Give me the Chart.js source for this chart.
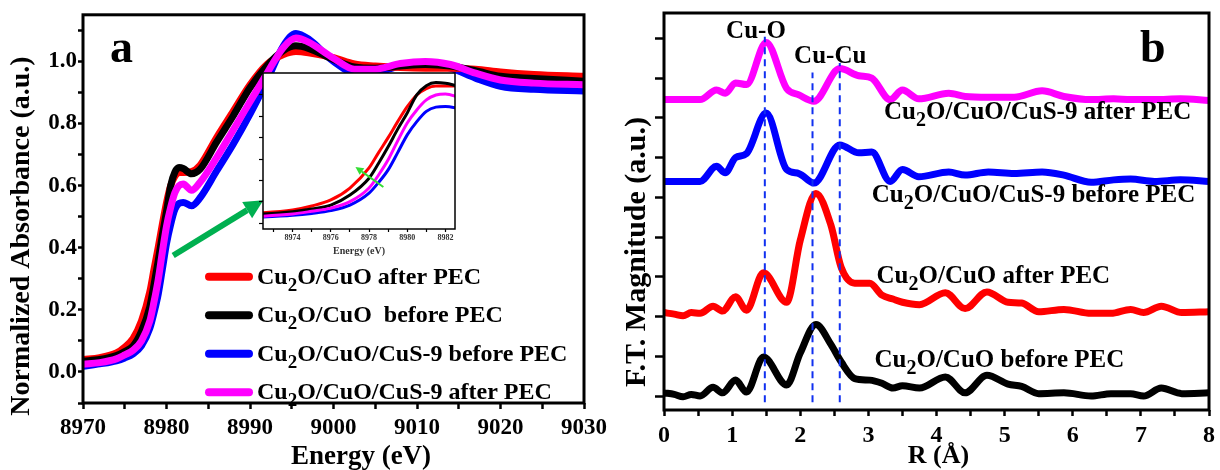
<!DOCTYPE html>
<html>
<head>
<meta charset="utf-8">
<script src="https://cdn.jsdelivr.net/npm/chart.js@4.4.1/dist/chart.umd.min.js"></script>
<style>
  body { margin: 0; background: #fff; }
  #wrap { position: relative; width: 1220px; height: 470px; }
  #wrap canvas { position: absolute; }
</style>
</head>
<body>
<div id="wrap">
  <canvas id="xanes" width="620" height="470" style="left:0;top:0"></canvas>
  <canvas id="inset" width="230" height="200" style="left:240px;top:60px"></canvas>
  <canvas id="ftChart" width="620" height="470" style="left:600px;top:0"></canvas>
</div>
<script>
// ---- panel a: Cu K-edge XANES ----
const energy = [8970, 8972, 8974, 8975, 8976, 8977, 8978, 8978.5, 8979, 8979.5, 8980, 8980.5, 8981, 8981.5, 8982,
  8983, 8984, 8986, 8988, 8990, 8992, 8994, 8995.5, 8997, 9000, 9002.5, 9005, 9008, 9011, 9014, 9017, 9020, 9024, 9030];
const xanesCuOAfter = [0.040, 0.046, 0.061, 0.080, 0.108, 0.164, 0.258, 0.330, 0.400, 0.475, 0.545, 0.600, 0.630, 0.642, 0.642,
  0.645, 0.665, 0.755, 0.840, 0.925, 0.990, 1.022, 1.032, 1.028, 1.012, 0.992, 0.985, 0.980, 0.978, 0.978, 0.975, 0.966, 0.958, 0.952];
const xanesCuOBefore = [0.035, 0.040, 0.053, 0.066, 0.084, 0.131, 0.210, 0.280, 0.357, 0.440, 0.516, 0.600, 0.643, 0.658, 0.655,
  0.638, 0.652, 0.740, 0.825, 0.915, 0.985, 1.035, 1.050, 1.042, 1.006, 0.982, 0.978, 0.985, 0.990, 0.985, 0.970, 0.952, 0.945, 0.936];
const xanesCuSBefore = [0.018, 0.026, 0.036, 0.045, 0.058, 0.084, 0.140, 0.190, 0.249, 0.330, 0.413, 0.475, 0.523, 0.543, 0.546,
  0.535, 0.560, 0.647, 0.734, 0.830, 0.936, 1.050, 1.090, 1.072, 1.000, 0.965, 0.965, 0.985, 0.990, 0.978, 0.946, 0.920, 0.910, 0.905];
const xanesCuSAfter = [0.025, 0.030, 0.042, 0.055, 0.070, 0.100, 0.164, 0.225, 0.296, 0.385, 0.469, 0.530, 0.577, 0.600, 0.605,
  0.585, 0.610, 0.690, 0.780, 0.870, 0.960, 1.045, 1.075, 1.062, 1.010, 0.975, 0.975, 0.993, 1.000, 0.990, 0.962, 0.940, 0.930, 0.925];

// ---- panel b: Fourier transformed EXAFS (stacked) ----
const rCuO = [0, 0.15, 0.28, 0.4, 0.53, 0.72, 0.86, 1.05, 1.21, 1.46, 1.8, 2.0, 2.23, 2.45, 2.6, 2.8, 3.02, 3.2, 3.36, 3.5,
  3.75, 4.13, 4.42, 4.74, 5.05, 5.25, 5.5, 5.87, 6.27, 6.56, 6.85, 7.04, 7.3, 7.6, 8.0];
const ftCuOBefore = [0.04, 0.02, -0.01, 0.02, 0.0, 0.11, 0.04, 0.2, 0.05, 0.49, 0.14, 0.54, 0.9, 0.65, 0.43, 0.22, 0.2, 0.16, 0.1, 0.13,
  0.1, 0.24, 0.04, 0.26, 0.15, 0.12, 0.03, 0.04, 0.0, 0.03, 0.03, 0.0, 0.1, 0.03, 0.04];
const ftCuOAfter = [1.05, 1.03, 1.01, 1.05, 1.04, 1.13, 1.07, 1.25, 1.08, 1.55, 1.18, 1.96, 2.55, 2.15, 1.62, 1.42, 1.42, 1.27, 1.22, 1.18,
  1.15, 1.3, 1.1, 1.31, 1.18, 1.17, 1.06, 1.09, 1.04, 1.04, 1.09, 1.05, 1.13, 1.05, 1.06];
const rCuS = [0, 0.28, 0.53, 0.77, 0.9, 1.05, 1.21, 1.5, 1.8, 1.98, 2.2, 2.58, 2.86, 3.05, 3.32, 3.5, 3.74, 4.18, 4.42, 4.76,
  5.14, 5.55, 5.87, 6.27, 6.6, 6.85, 7.2, 7.58, 8.0];
const ftCuSBefore = [2.7, 2.7, 2.7, 2.89, 2.81, 3.0, 3.05, 3.56, 2.85, 2.8, 2.68, 3.16, 3.06, 3.07, 2.7, 2.85, 2.76, 2.82, 2.78, 2.82,
  2.8, 2.82, 2.78, 2.69, 2.72, 2.73, 2.7, 2.72, 2.7];
const ftCuSAfter = [3.73, 3.73, 3.73, 3.85, 3.81, 3.94, 3.92, 4.45, 3.87, 3.79, 3.71, 4.12, 4.03, 4.0, 3.73, 3.85, 3.74, 3.81, 3.77, 3.76,
  3.76, 3.84, 3.77, 3.73, 3.74, 3.73, 3.73, 3.74, 3.72];

// shell positions marked with dashed lines and the height each line reaches
const shellR = [1.48, 2.18, 2.58];
const shellTop = [4.52, 4.07, 4.19];

const serif = "'Liberation Serif', 'Times New Roman', serif";
const RED = '#ff0000', BLACK = '#000000', BLUE = '#0000ff', MAGENTA = '#ff00ff';

const pts = (xs, ys) => xs.map((x, i) => ({ x: x, y: ys[i] }));
const font = (size) => ({ family: serif, weight: 'bold', size: size });

// "Cu" + subscript 2 + rest of the sample name
function drawCu2O(ctx, x, y, rest, size) {
  ctx.textAlign = 'left';
  ctx.textBaseline = 'alphabetic';
  ctx.fillStyle = '#000';
  ctx.font = `bold ${size}px ${serif}`;
  ctx.fillText('Cu', x, y);
  x += ctx.measureText('Cu').width;
  ctx.font = `bold ${Math.round(size * 0.8)}px ${serif}`;
  ctx.fillText('2', x, y + size * 0.28);
  x += ctx.measureText('2').width;
  ctx.font = `bold ${size}px ${serif}`;
  ctx.fillText(rest, x, y);
}

function arrow(ctx, x1, y1, x2, y2, w, head, color) {
  const a = Math.atan2(y2 - y1, x2 - x1);
  const bx = x2 - head * Math.cos(a), by = y2 - head * Math.sin(a);
  ctx.strokeStyle = color;
  ctx.fillStyle = color;
  ctx.lineWidth = w;
  ctx.beginPath();
  ctx.moveTo(x1, y1);
  ctx.lineTo(bx, by);
  ctx.stroke();
  ctx.beginPath();
  ctx.moveTo(x2, y2);
  ctx.lineTo(bx + head * 0.5 * Math.sin(a), by - head * 0.5 * Math.cos(a));
  ctx.lineTo(bx - head * 0.5 * Math.sin(a), by + head * 0.5 * Math.cos(a));
  ctx.closePath();
  ctx.fill();
}

function rotatedTitle(ctx, text, x, y, size) {
  ctx.save();
  ctx.translate(x, y);
  ctx.rotate(-Math.PI / 2);
  ctx.font = `bold ${size}px ${serif}`;
  ctx.fillStyle = '#000';
  ctx.textAlign = 'center';
  ctx.textBaseline = 'middle';
  ctx.fillText(text, 0, 0);
  ctx.restore();
}

// box around the plot area (plus white fill for the inset)
const framePlugin = {
  id: 'frame',
  beforeDatasetsDraw(chart, args, opts) {
    if (!opts.fill) return;
    const { left, top, right, bottom } = chart.chartArea;
    chart.ctx.save();
    chart.ctx.fillStyle = '#fff';
    chart.ctx.fillRect(left, top, right - left, bottom - top);
    chart.ctx.restore();
  },
  afterDatasetsDraw(chart, args, opts) {
    const { left, top, right, bottom } = chart.chartArea;
    const ctx = chart.ctx;
    ctx.save();
    ctx.lineWidth = opts.width || 3;
    ctx.strokeStyle = '#000';
    ctx.strokeRect(left, top, right - left, bottom - top);
    ctx.restore();
  }
};

function axisX(min, max, step, labelEvery, size, tick, pad, height) {
  return {
    type: 'linear', min: min, max: max,
    afterFit: (s) => { s.height = height; },
    border: { display: false },
    grid: { drawOnChartArea: false, drawTicks: true, tickLength: tick, tickWidth: size < 12 ? 1.2 : 2.5, tickColor: '#000' },
    ticks: {
      stepSize: step, autoSkip: false, maxRotation: 0, includeBounds: false, padding: pad,
      color: size < 12 ? '#333' : '#000', font: font(size),
      callback: (v) => (Math.abs(v / labelEvery - Math.round(v / labelEvery)) < 1e-6 ? String(Math.round(v)) : '')
    }
  };
}

const lineStyle = (color, width, order) => ({
  borderColor: color, backgroundColor: color, borderWidth: width, pointRadius: 0,
  cubicInterpolationMode: 'monotone', fill: false, order: order
});

function xanesSets(width, clip) {
  return [
    Object.assign({ label: 'Cu2O/CuO/CuS-9 before PEC', data: pts(energy, xanesCuSBefore), clip: clip }, lineStyle(BLUE, width, 3)),
    Object.assign({ label: 'Cu2O/CuO after PEC', data: pts(energy, xanesCuOAfter), clip: clip }, lineStyle(RED, width, 2)),
    Object.assign({ label: 'Cu2O/CuO before PEC', data: pts(energy, xanesCuOBefore), clip: clip }, lineStyle(BLACK, width, 1)),
    Object.assign({ label: 'Cu2O/CuO/CuS-9 after PEC', data: pts(energy, xanesCuSAfter), clip: clip }, lineStyle(MAGENTA, width, 0))
  ];
}

const legendItems = [
  { color: RED, rest: 'O/CuO after PEC' },
  { color: BLACK, rest: 'O/CuO  before PEC' },
  { color: BLUE, rest: 'O/CuO/CuS-9 before PEC' },
  { color: MAGENTA, rest: 'O/CuO/CuS-9 after PEC' }
];

const xanesDecor = {
  id: 'xanesDecor',
  afterDraw(chart) {
    const ctx = chart.ctx, xs = chart.scales.x, ys = chart.scales.y;
    const area = chart.chartArea;
    ctx.save();
    ctx.fillStyle = '#000';
    ctx.font = `bold 46px ${serif}`;
    ctx.textAlign = 'left';
    ctx.textBaseline = 'alphabetic';
    ctx.fillText('a', area.left + 27, area.top + 47);

    // arrow pointing at the magnified edge
    arrow(ctx, xs.getPixelForValue(8980.8), ys.getPixelForValue(0.375),
      xs.getPixelForValue(8991.6), ys.getPixelForValue(0.553), 6, 19, '#00b050');

    // legend
    legendItems.forEach((item, i) => {
      const y = area.top + 262 + i * 38.5;
      ctx.strokeStyle = item.color;
      ctx.lineWidth = 8;
      ctx.lineCap = 'round';
      ctx.beginPath();
      ctx.moveTo(area.left + 126, y);
      ctx.lineTo(area.left + 166, y);
      ctx.stroke();
      drawCu2O(ctx, area.left + 174, y + 7, item.rest, 24);
    });

    rotatedTitle(ctx, 'Normalized Absorbance (a.u.)', 22, 236, 28);
    ctx.font = `bold 27px ${serif}`;
    ctx.textAlign = 'center';
    ctx.textBaseline = 'middle';
    ctx.fillText('Energy (eV)', 361, 457);
    ctx.restore();
  }
};

new Chart(document.getElementById('xanes'), {
  type: 'line',
  data: { datasets: xanesSets(7, 0) },
  options: {
    responsive: false,
    animation: false,
    layout: { padding: { top: 13, right: 36, left: 0, bottom: 0 } },
    plugins: { legend: { display: false }, tooltip: { enabled: false }, frame: { width: 3 } },
    scales: {
      x: axisX(8970, 9030, 5, 10, 23, 6, 5, 67),
      y: {
        min: -0.1, max: 1.15,
        afterFit: (s) => { s.width = 83; },
        border: { display: false },
        grid: { drawOnChartArea: false, tickLength: 5, tickWidth: 2.5, tickColor: '#000' },
        ticks: {
          stepSize: 0.1, autoSkip: false, includeBounds: false, padding: 1,
          color: '#000', font: font(23),
          callback: (v) => {
            const k = Math.round(v * 10);
            return (k >= 0 && k <= 10 && k % 2 === 0) ? (k / 10).toFixed(1) : '';
          }
        }
      }
    }
  },
  plugins: [framePlugin, xanesDecor]
});

// ---- inset: magnified absorption edge ----
const insetDecor = {
  id: 'insetDecor',
  afterDraw(chart) {
    const ctx = chart.ctx, xs = chart.scales.x, ys = chart.scales.y;
    const area = chart.chartArea;
    ctx.save();
    arrow(ctx, xs.getPixelForValue(8978.75), ys.getPixelForValue(0.169),
      xs.getPixelForValue(8977.29), ys.getPixelForValue(0.263), 2, 8, '#33dd33');
    ctx.fillStyle = '#333';
    ctx.font = `bold 10px ${serif}`;
    ctx.textAlign = 'center';
    ctx.textBaseline = 'middle';
    ctx.fillText('Energy (eV)', (area.left + area.right) / 2, area.bottom + 22);
    ctx.restore();
  }
};

new Chart(document.getElementById('inset'), {
  type: 'line',
  data: { datasets: xanesSets(3, 0) },
  options: {
    responsive: false,
    animation: false,
    layout: { padding: { top: 13, right: 15, left: 0, bottom: 0 } },
    plugins: { legend: { display: false }, tooltip: { enabled: false }, frame: { width: 1.5, fill: true } },
    scales: {
      x: axisX(8972.45, 8982.5, 1, 2, 8, 3, 1, 31),
      y: {
        min: -0.028, max: 0.703,
        afterFit: (s) => { s.width = 23; },
        border: { display: false },
        grid: { drawOnChartArea: false, tickLength: 4, tickWidth: 1.2, tickColor: '#000' },
        ticks: { stepSize: 0.1, includeBounds: false, callback: () => '' }
      }
    }
  },
  plugins: [framePlugin, insetDecor]
});

// ---- panel b ----
const ftLabels = [
  { r: 3.09, y: 0.365, rest: 'O/CuO before PEC' },
  { r: 3.12, y: 1.42, rest: 'O/CuO after PEC' },
  { r: 3.05, y: 2.44, rest: 'O/CuO/CuS-9 before PEC' },
  { r: 3.23, y: 3.48, rest: 'O/CuO/CuS-9 after PEC' }
];
const shellNames = [
  { text: 'Cu-O', r: 1.35, y: 4.51 },
  { text: 'Cu-Cu', r: 2.44, y: 4.19 }
];

const ftDecor = {
  id: 'ftDecor',
  afterDraw(chart) {
    const ctx = chart.ctx, xs = chart.scales.x, ys = chart.scales.y;
    const area = chart.chartArea;
    ctx.save();
    ctx.fillStyle = '#000';
    ctx.font = `bold 46px ${serif}`;
    ctx.textAlign = 'left';
    ctx.textBaseline = 'alphabetic';
    ctx.fillText('b', area.right - 69, area.top + 49);

    ftLabels.forEach((l) => drawCu2O(ctx, xs.getPixelForValue(l.r), ys.getPixelForValue(l.y), l.rest, 25));

    ctx.font = `bold 25px ${serif}`;
    ctx.textAlign = 'center';
    ctx.textBaseline = 'alphabetic';
    shellNames.forEach((s) => ctx.fillText(s.text, xs.getPixelForValue(s.r), ys.getPixelForValue(s.y)));

    rotatedTitle(ctx, 'F.T. Magnitude (a.u.)', 37, 252, 30);
    ctx.font = `bold 26px ${serif}`;
    ctx.textAlign = 'center';
    ctx.textBaseline = 'middle';
    ctx.fillText('R (Å)', (area.left + area.right) / 2 + 2, 456);
    ctx.restore();
  }
};

const shellSets = shellR.map((r, i) => ({
  data: [{ x: r, y: -0.08 }, { x: r, y: shellTop[i] }],
  borderColor: '#1030f0', borderWidth: 2, borderDash: [7, 5], pointRadius: 0, order: -1, clip: false
}));

new Chart(document.getElementById('ftChart'), {
  type: 'line',
  data: {
    datasets: [
      Object.assign({ label: 'Cu2O/CuO before PEC', data: pts(rCuO, ftCuOBefore) }, lineStyle(BLACK, 7, 3)),
      Object.assign({ label: 'Cu2O/CuO after PEC', data: pts(rCuO, ftCuOAfter) }, lineStyle(RED, 7, 2)),
      Object.assign({ label: 'Cu2O/CuO/CuS-9 before PEC', data: pts(rCuS, ftCuSBefore) }, lineStyle(BLUE, 7, 1)),
      Object.assign({ label: 'Cu2O/CuO/CuS-9 after PEC', data: pts(rCuS, ftCuSAfter) }, lineStyle(MAGENTA, 7, 0))
    ].concat(shellSets)
  },
  options: {
    responsive: false,
    animation: false,
    layout: { padding: { top: 13, right: 8, left: 0, bottom: 0 } },
    plugins: { legend: { display: false }, tooltip: { enabled: false }, frame: { width: 3 } },
    scales: {
      x: axisX(0, 8, 0.5, 1, 24, 6, 5, 60),
      y: {
        min: -0.176, max: 4.82,
        afterFit: (s) => { s.width = 64; },
        border: { display: false },
        grid: { drawOnChartArea: false, tickLength: 9, tickWidth: 2.5, tickColor: '#000' },
        ticks: { stepSize: 0.5, includeBounds: false, callback: () => '' }
      }
    }
  },
  plugins: [framePlugin, ftDecor]
});
</script>
</body>
</html>
